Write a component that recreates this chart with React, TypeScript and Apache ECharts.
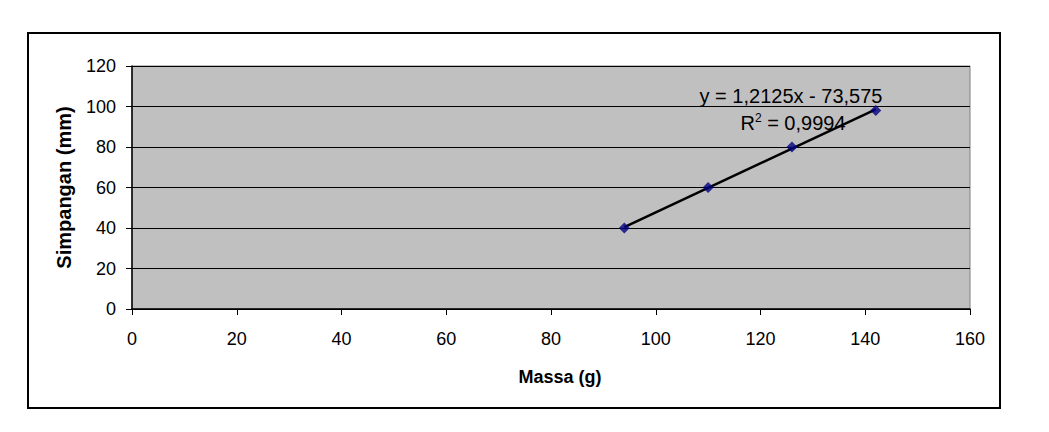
import React, { useEffect, useRef } from "react";
import * as echarts from "echarts";

const massa = [94, 110, 126, 142];
const simpangan = [40, 60, 80, 98];
const trendSlope = 1.2125;
const trendIntercept = -73.575;
const trendX = [94, 142];
const equationText = "y = 1,2125x - 73,575";
const r2Value = "0,9994";

export default function App() {
  const ref = useRef<HTMLDivElement>(null);
  useEffect(() => {
    if (!ref.current) return;
    const chart = echarts.init(ref.current, undefined, { renderer: "svg" });
    const font = "'Liberation Sans', Arial, sans-serif";
    chart.setOption({
      animation: false,
      backgroundColor: "#ffffff",
      grid: {
        left: 132,
        right: 79,
        top: 66,
        bottom: 123,
        show: true,
        backgroundColor: "#C0C0C0",
        borderColor: "#808080",
        borderWidth: 1,
      },
      graphic: [
        {
          type: "rect",
          shape: { x: 28, y: 33, width: 972, height: 375 },
          style: { fill: "none", stroke: "#000", lineWidth: 2 },
          z: -1,
        },
        {
          type: "text",
          x: 791,
          y: 96,
          style: {
            text: equationText,
            font: `20px ${font}`,
            fill: "#000",
            align: "center",
            verticalAlign: "middle",
          },
          z: 100,
        },
        {
          type: "text",
          x: 793,
          y: 123,
          style: {
            text: `R{sup|2} = ${r2Value}`,
            font: `20px ${font}`,
            fill: "#000",
            align: "center",
            verticalAlign: "middle",
            rich: {
              sup: { fontSize: 12, fontFamily: font, verticalAlign: "top", padding: [0, 0, 10, 0] },
            },
          },
          z: 100,
        },
      ],
      xAxis: {
        type: "value",
        min: 0,
        max: 160,
        interval: 20,
        name: "Massa (g)",
        nameLocation: "middle",
        nameGap: 59,
        nameTextStyle: {
          fontFamily: font,
          fontWeight: "bold",
          fontSize: 18,
          color: "#000",
          padding: [0, 0, 0, 18],
        },
        axisLine: { show: true, lineStyle: { color: "#000", width: 1.5 } },
        axisTick: { show: true, length: 6, lineStyle: { color: "#000" } },
        axisLabel: { fontFamily: font, fontSize: 18, color: "#000", margin: 21 },
        splitLine: { show: false },
      },
      yAxis: {
        type: "value",
        min: 0,
        max: 120,
        interval: 20,
        name: "Simpangan (mm)",
        nameLocation: "middle",
        nameGap: 58,
        nameTextStyle: { fontFamily: font, fontWeight: "bold", fontSize: 20, color: "#000" },
        axisLine: { show: true, lineStyle: { color: "#000", width: 1.5 } },
        axisTick: { show: true, length: 6, lineStyle: { color: "#000" } },
        axisLabel: { fontFamily: font, fontSize: 18, color: "#000", margin: 16 },
        splitLine: { show: true, lineStyle: { color: "#000", width: 1 } },
      },
      series: [
        {
          type: "line",
          name: "Linear",
          data: trendX.map((x) => [x, trendSlope * x + trendIntercept]),
          showSymbol: false,
          symbol: "none",
          lineStyle: { color: "#000", width: 2.5 },
          z: 3,
        },
        {
          type: "scatter",
          name: "Data",
          data: massa.map((m, i) => [m, simpangan[i]]),
          symbol: "diamond",
          symbolSize: 11,
          itemStyle: { color: "#000080" },
          z: 4,
        },
      ],
    });
    return () => chart.dispose();
  }, []);
  return (
    <div
      ref={ref}
      style={{ position: "absolute", left: 0, top: 0, width: 1049, height: 432 }}
    />
  );
}
